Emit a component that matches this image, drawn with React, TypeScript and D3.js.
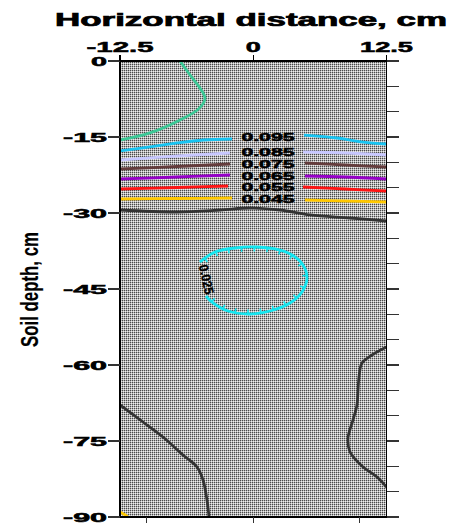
import React, { useEffect, useRef } from "react";
import * as d3 from "d3";

// ---- data ----
const xDomain: [number, number] = [-12.5, 12.5];
const yDomain: [number, number] = [0, -90];
const topTicks = [-12.5, 0, 12.5];
const topTickLabels = ["-12.5", "0", "12.5"];
const bottomTicks = [-10, 0, 10];
const leftTicks = [0, -15, -30, -45, -60, -75, -90];
const leftTickLabels = ["0", "-15", "-30", "-45", "-60", "-75", "-90"];
const rightTicks = [0, -5, -10, -15, -20, -25, -30, -35, -40, -45, -50, -55, -60, -65, -70, -75, -80, -85, -90];

const titleText = "Horizontal distance, cm";
const yLabelText = "Soil depth, cm";

// contour 0.105 (green)
const c105: [number, number][] = [[-6.87, 0], [-5.93, -2.76], [-5.0, -5.33], [-4.53, -7.4], [-5.1, -9.4], [-6.87, -11.65], [-9.69, -14.2], [-12.5, -15.6]];
// labelled contours, left and right halves
const c095L: [number, number][] = [[-12.5, -17.76], [-9.69, -16.97], [-7.15, -16.18], [-4.71, -15.59], [-1.99, -15.39]];
const c095R: [number, number][] = [[4.76, -14.61], [7.86, -15.2], [10.3, -15.99], [12.5, -16.38]];
const c085L: [number, number][] = [[-12.5, -19.54], [-7.15, -18.75], [-2.18, -18.16]];
const c085R: [number, number][] = [[4.67, -17.96], [8.61, -18.16], [12.5, -18.55]];
const c075L: [number, number][] = [[-12.5, -21.32], [-7.15, -20.82], [-2.18, -20.33]];
const c075R: [number, number][] = [[4.85, -20.13], [8.61, -20.53], [12.5, -20.92]];
const c065L: [number, number][] = [[-12.5, -23.29], [-7.15, -22.89], [-2.18, -22.5]];
const c065R: [number, number][] = [[4.85, -22.7], [8.61, -22.89], [12.5, -23.29]];
const c055L: [number, number][] = [[-12.5, -25.26], [-7.15, -24.97], [-2.37, -24.67]];
const c055R: [number, number][] = [[4.67, -24.87], [8.61, -25.26], [12.5, -25.66]];
const c045L: [number, number][] = [[-12.5, -27.24], [-7.15, -27.14], [-1.99, -27.04]];
const c045R: [number, number][] = [[4.85, -27.43], [8.61, -27.63], [12.5, -27.83]];
const c045Corner: [number, number][] = [[-12.5, -89.0], [-12.05, -89.55], [-11.75, -90]];
// 0.035 (dark) contours
const c035Top: [number, number][] = [[-12.5, -29.41], [-7.15, -29.8], [-3.12, -29.41], [-0.3, -29.01], [2.51, -29.41], [5.32, -30.39], [9.08, -30.99], [12.5, -31.58]];
const c035BL: [number, number][] = [[-12.5, -67.89], [-10.34, -71.25], [-8.47, -74.21], [-6.59, -77.76], [-5.28, -80.13], [-4.71, -82.7], [-4.34, -86.64], [-4.15, -90]];
const c035R: [number, number][] = [[12.5, -56.45], [11.14, -58.03], [10.2, -59.61], [9.92, -62.37], [9.83, -64.93], [9.73, -67.89], [9.36, -70.85], [8.89, -74.41], [9.08, -77.17], [10.3, -80.13], [11.61, -82.11], [12.5, -84.08]];
// 0.025 closed depression (open at label)
const c025: [number, number][] = [[-5.0, -39.67], [-3.59, -37.7], [-1.71, -36.91], [0.16, -36.71], [2.04, -37.1], [3.64, -38.29], [4.67, -40.26], [5.04, -42.83], [4.57, -45.59], [3.45, -47.76], [1.57, -49.34], [-0.3, -49.93], [-2.37, -49.34], [-3.87, -47.57], [-4.43, -46.38]];

const levelLabels = ["0.095", "0.085", "0.075", "0.065", "0.055", "0.045"];
const levelLabelX = [1.38, 1.38, 1.38, 1.38, 1.38, 1.38];
const levelLabelY = [-15.0, -17.96, -20.33, -22.7, -24.87, -27.24];
const ellipseLabel = "0.025";
const ellipseLabelPos: [number, number] = [-4.4, -43.1];

const colors = {
  c105: "#3cc896",
  c095: "#18c4f2",
  c085: "#c8c8ff",
  c075: "#643c3c",
  c065: "#9600c8",
  c055: "#ff1414",
  c045: "#ffc800",
  c035: "#333333",
  c025: "#14e6f0",
};

export default function App() {
  const ref = useRef<SVGSVGElement | null>(null);

  useEffect(() => {
    const svg = d3.select(ref.current);
    svg.selectAll("*").remove();
    const W = 454, H = 523;
    const left = 120, right = 386.5, top = 61, bottom = 517;
    const x = d3.scaleLinear(xDomain, [left, right]);
    const y = d3.scaleLinear(yDomain, [top, bottom]);
    const font = "'Liberation Sans', Arial, sans-serif";

    const defs = svg.append("defs");
    const pat = defs.append("pattern").attr("id", "tex").attr("patternUnits", "userSpaceOnUse")
      .attr("width", 2).attr("height", 2);
    pat.append("rect").attr("width", 2).attr("height", 2).attr("fill", "#b4b4b4");
    pat.append("rect").attr("x", 0).attr("y", 0).attr("width", 1).attr("height", 1).attr("fill", "#4a4a4a");
    pat.append("rect").attr("x", 1).attr("y", 1).attr("width", 1).attr("height", 1).attr("fill", "#ededed");
    defs.append("clipPath").attr("id", "clip").append("rect")
      .attr("x", left).attr("y", top).attr("width", right - left).attr("height", bottom - top);

    svg.append("rect").attr("width", W).attr("height", H).attr("fill", "#fff");
    svg.append("rect").attr("x", left).attr("y", top).attr("width", right - left).attr("height", bottom - top)
      .attr("fill", "url(#tex)");

    const g = svg.append("g").attr("clip-path", "url(#clip)");
    const line = d3.line<[number, number]>().x(d => x(d[0])).y(d => y(d[1])).curve(d3.curveCatmullRom.alpha(0.5));
    const draw = (pts: [number, number][], color: string, w = 2.8) =>
      g.append("path").attr("d", line(pts)).attr("fill", "none").attr("stroke", color)
        .attr("stroke-width", w).attr("stroke-linecap", "butt");

    draw(c105, colors.c105);
    draw(c095L, colors.c095); draw(c095R, colors.c095);
    draw(c085L, colors.c085); draw(c085R, colors.c085);
    draw(c075L, colors.c075); draw(c075R, colors.c075);
    draw(c065L, colors.c065); draw(c065R, colors.c065);
    draw(c055L, colors.c055); draw(c055R, colors.c055);
    draw(c045L, colors.c045); draw(c045R, colors.c045); draw(c045Corner, colors.c045);
    draw(c035Top, colors.c035); draw(c035BL, colors.c035); draw(c035R, colors.c035);
    const ell = draw(c025, colors.c025, 2.8);

    // hachures pointing inward
    const node = ell.node() as SVGPathElement;
    const total = node.getTotalLength();
    const cx = x(d3.mean(c025, d => d[0]) as number);
    const cy = y(d3.mean(c025, d => d[1]) as number);
    for (let l = 6; l < total - 3; l += 13) {
      const p = node.getPointAtLength(l);
      const q = node.getPointAtLength(l + 1);
      let nx = -(q.y - p.y), ny = q.x - p.x;
      const n = Math.hypot(nx, ny) || 1;
      nx /= n; ny /= n;
      if ((cx - p.x) * nx + (cy - p.y) * ny < 0) { nx = -nx; ny = -ny; }
      g.append("line").attr("x1", p.x).attr("y1", p.y).attr("x2", p.x + nx * 4.5).attr("y2", p.y + ny * 4.5)
        .attr("stroke", colors.c025).attr("stroke-width", 1.6);
    }

    const boldText = (sel: d3.Selection<SVGTextElement, unknown, null, undefined>, sw = 0.5) =>
      sel.attr("font-family", font).attr("font-weight", "bold").attr("fill", "#000")
        .attr("stroke", "#000").attr("stroke-width", sw).attr("lengthAdjust", "spacingAndGlyphs");

    // contour labels
    levelLabels.forEach((t, i) => {
      boldText(svg.append("text").attr("x", x(levelLabelX[i])).attr("y", y(levelLabelY[i]) + 4.2)
        .attr("text-anchor", "middle").attr("font-size", 11).attr("textLength", 53), 0.5).text(t);
    });
    boldText(svg.append("text")
      .attr("transform", `translate(${x(ellipseLabelPos[0])},${y(ellipseLabelPos[1])}) rotate(78)`)
      .attr("text-anchor", "middle").attr("y", 4.5).attr("font-size", 13).attr("textLength", 30), 0.3)
      .text(ellipseLabel);

    // frame
    const ax = svg.append("g").attr("stroke", "#000").attr("stroke-width", 1.2).attr("shape-rendering", "crispEdges");
    ax.append("line").attr("x1", left).attr("x2", left).attr("y1", top).attr("y2", bottom);
    ax.append("line").attr("x1", right).attr("x2", right).attr("y1", top).attr("y2", bottom);
    ax.append("line").attr("x1", left).attr("x2", right).attr("y1", top).attr("y2", top);
    ax.append("line").attr("x1", left).attr("x2", right).attr("y1", bottom).attr("y2", bottom);

    // ticks
    leftTicks.forEach(v => ax.append("line").attr("x1", left - 12).attr("x2", left).attr("y1", y(v)).attr("y2", y(v)).attr("stroke", "#333"));
    rightTicks.forEach(v => ax.append("line").attr("x1", right).attr("x2", right + 12).attr("y1", y(v)).attr("y2", y(v)).attr("stroke", "#333"));
    topTicks.forEach(v => ax.append("line").attr("x1", x(v)).attr("x2", x(v)).attr("y1", top - 6).attr("y2", top));
    bottomTicks.forEach(v => ax.append("line").attr("x1", x(v)).attr("x2", x(v)).attr("y1", bottom).attr("y2", bottom + 7).attr("stroke", "#333"));

    const wTop = (s: string) => Array.from(s).reduce((a, c) => a + (c === "." ? 8 : c === "-" ? 14 : 15), 0);
    const wLeft = (s: string) => Array.from(s).reduce((a, c) => a + (c === "-" ? 12 : 16), 0);

    topTicks.forEach((v, i) => {
      boldText(svg.append("text").attr("x", x(v)).attr("y", 52).attr("text-anchor", "middle")
        .attr("font-size", 14).attr("textLength", wTop(topTickLabels[i]))).text(topTickLabels[i]);
    });
    leftTicks.forEach((v, i) => {
      boldText(svg.append("text").attr("x", 107).attr("y", y(v) + 4.5).attr("text-anchor", "end")
        .attr("font-size", 12).attr("textLength", wLeft(leftTickLabels[i]))).text(leftTickLabels[i]);
    });

    boldText(svg.append("text").attr("x", 251).attr("y", 26).attr("text-anchor", "middle")
      .attr("font-size", 17.5).attr("textLength", 392), 0.7).text(titleText);

    boldText(svg.append("text").attr("transform", "translate(38,289.5) rotate(-90)").attr("text-anchor", "middle")
      .attr("font-size", 23).attr("textLength", 115), 0.2).text(yLabelText);
  }, []);

  return (
    <svg ref={ref} width={454} height={523}
      style={{ position: "absolute", left: 0, top: 0, display: "block" }} />
  );
}
